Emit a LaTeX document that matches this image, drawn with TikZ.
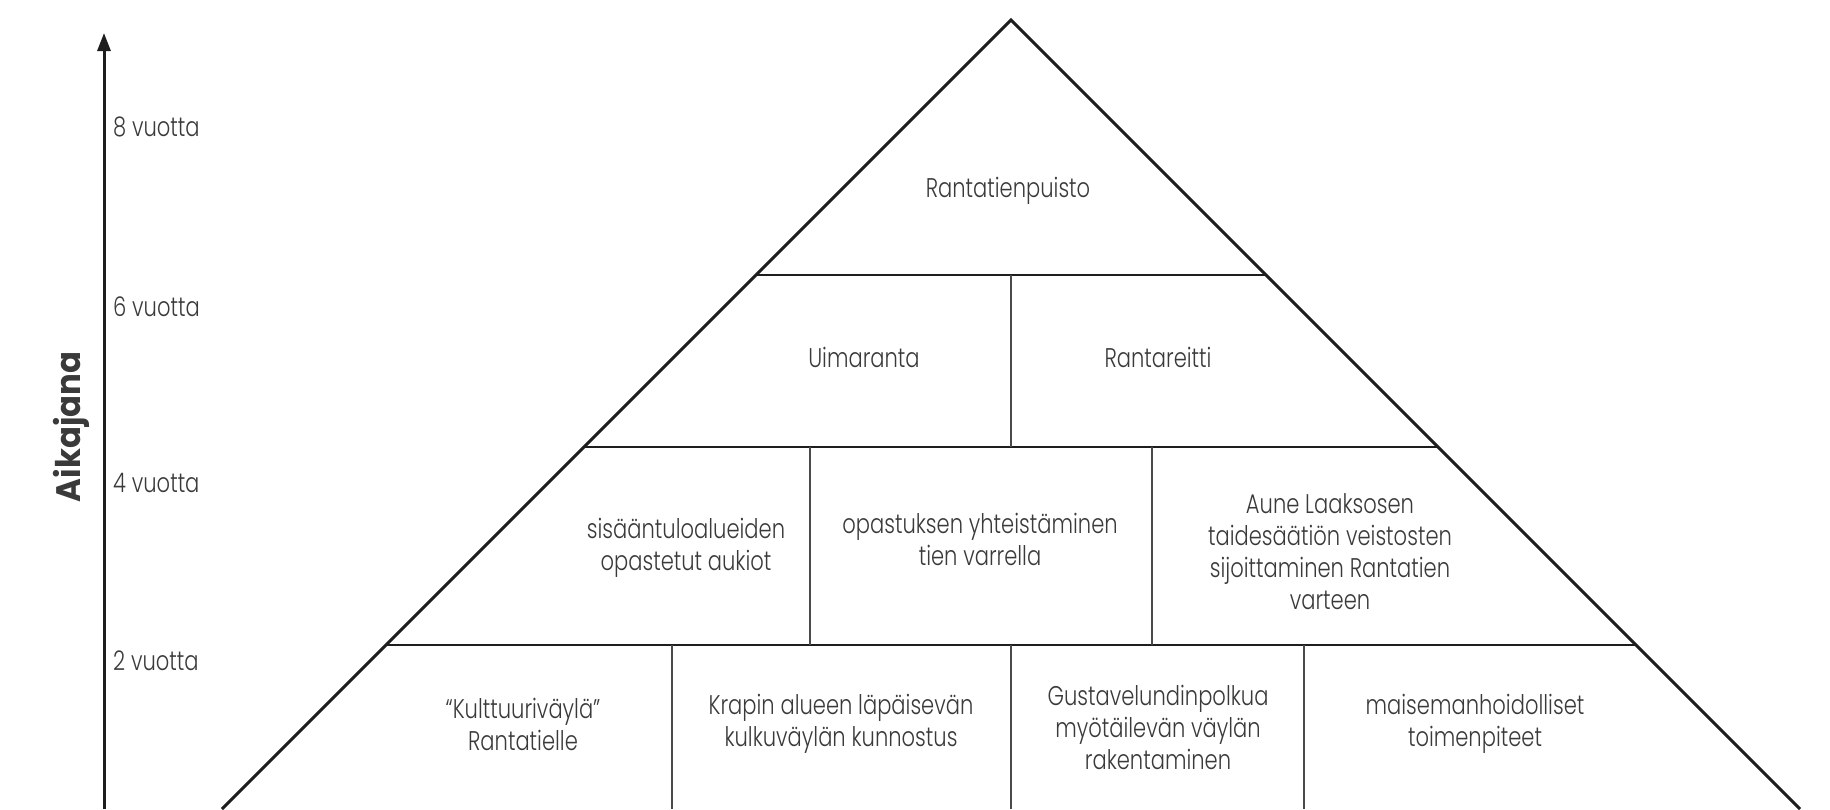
\documentclass[tikz,border=0pt]{standalone}
\usepackage{fontspec}
\setmainfont{Poppins Light}[FakeStretch=0.78]
\newfontfamily\axisfont{Poppins}[FakeStretch=0.95]
\usetikzlibrary{arrows.meta}
\definecolor{linecol}{HTML}{1E1E1E}
\definecolor{txtcol}{HTML}{3A3A3A}
\definecolor{divcol}{HTML}{4A4A4A}
\tikzset{
  side/.style={draw=linecol, line width=3pt, line join=miter},
  tier/.style={draw=linecol, line width=2pt},
  divider/.style={draw=divcol, line width=1.6pt},
  lbl/.style={align=center, text=txtcol, inner sep=0pt, font=\fontsize{27}{32}\selectfont},
  yearlbl/.style={anchor=west, text=txtcol, inner sep=0pt, font=\fontsize{27}{32}\selectfont},
  axis/.style={draw=linecol, line width=3pt, -{Triangle[length=18pt,width=13pt]}}
}
\begin{document}
\begin{tikzpicture}[x=1pt, y=-1pt]
\useasboundingbox (0,0) rectangle (1830,809);
% key points
\coordinate (apex) at (1011,20);
\coordinate (bl) at (222,809);
\coordinate (br) at (1800,809);
\coordinate (t1l) at (756,275);  \coordinate (t1r) at (1266,275);
\coordinate (t2l) at (584,447);  \coordinate (t2r) at (1438,447);
\coordinate (t3l) at (386,645);  \coordinate (t3r) at (1636,645);
% tier lines
\draw[tier] (t1l) -- (t1r);
\draw[tier] (t2l) -- (t2r);
\draw[tier] (t3l) -- (t3r);
% dividers
\draw[divider] (1011,275) -- (1011,447);
\draw[divider] (810,447) -- (810,645);
\draw[divider] (1152,447) -- (1152,645);
\draw[divider] (672,645) -- (672,809);
\draw[divider] (1011,645) -- (1011,809);
\draw[divider] (1304,645) -- (1304,809);
% pyramid sides
\draw[side] (bl) -- (apex) -- (br);
% axis
\coordinate (axbot) at (104,809);
\coordinate (axtop) at (104,33);
\draw[axis] (axbot) -- (axtop);
\node[yearlbl] (y8) at (113,127) {8 vuotta};
\node[yearlbl] (y6) at (113,307) {6 vuotta};
\node[yearlbl] (y4) at (113,483) {4 vuotta};
\node[yearlbl] (y2) at (113,661) {2 vuotta};
\node[rotate=90, text=txtcol, inner sep=0pt, font=\axisfont\bfseries\fontsize{34}{40}\selectfont] (axl) at (71,427) {Aikajana};
% texts
\node[lbl] (n1) at (1008,191) {Rantatienpuisto};
\node[lbl] (n2a) at (864,357) {Uimaranta};
\node[lbl] (n2b) at (1158,357) {Rantareitti};
\node[lbl] (n3a) at (686,548) {sisääntuloalueiden\\opastetut aukiot};
\node[lbl] (n3b) at (980,539) {opastuksen yhteistäminen\\tien varrella};
\node[lbl] (n3c) at (1330,552) {Aune Laaksosen\\taidesäätiön veistosten\\sijoittaminen Rantatien\\varteen};
\node[lbl] (n4a) at (523,724) {“Kulttuuriväylä”\\Rantatielle};
\node[lbl] (n4b) at (841,724) {Krapin alueen läpäisevän\\kulkuväylän kunnostus};
\node[lbl] (n4c) at (1158,727) {Gustavelundinpolkua\\myötäilevän väylän\\rakentaminen};
\node[lbl] (n4d) at (1475,724) {maisemanhoidolliset\\toimenpiteet};
\end{tikzpicture}
\end{document}
